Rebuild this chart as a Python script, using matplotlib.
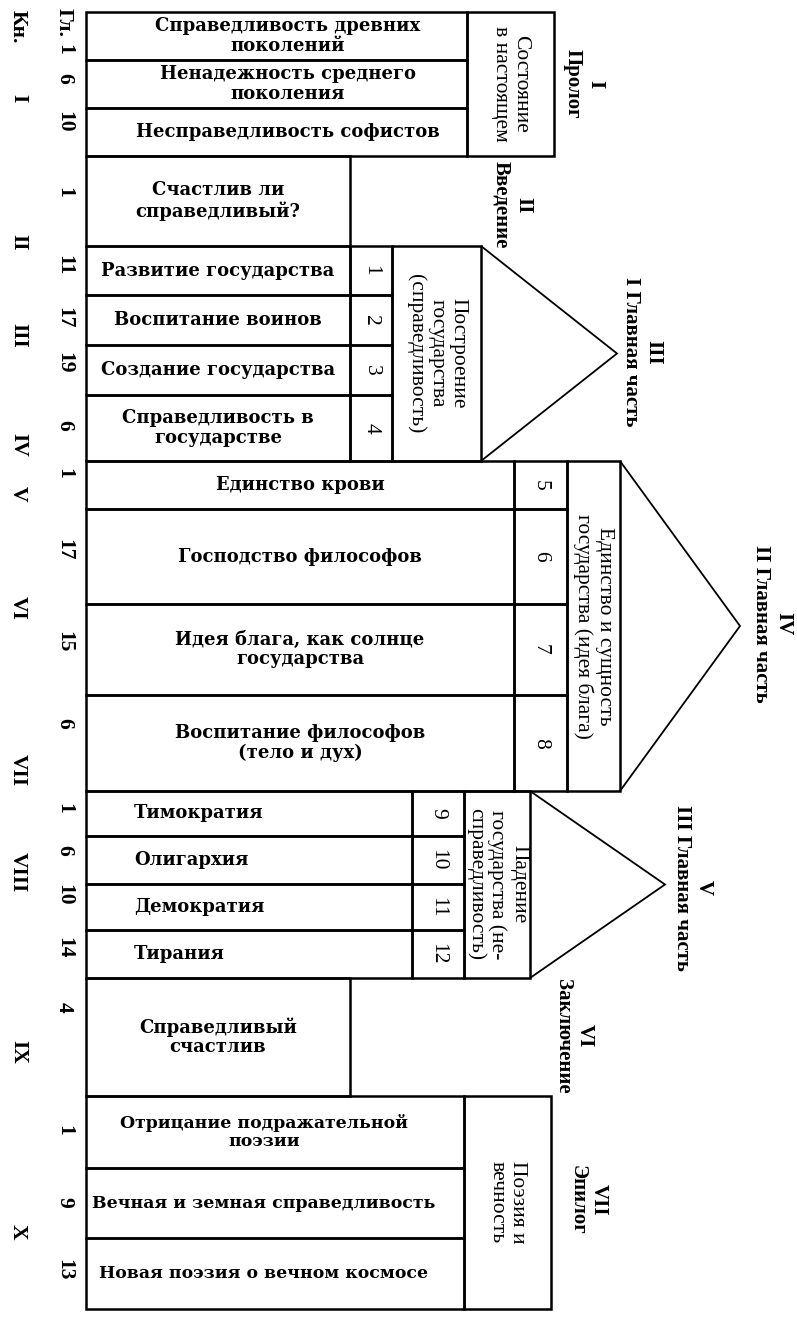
#!/usr/bin/env python3
"""Structure of Plato's Republic: books, chapters and parts as a block diagram."""
import matplotlib
matplotlib.use("Agg")
import matplotlib.pyplot as plt
from matplotlib.patches import Rectangle, Polygon

# ---------------------------------------------------------------------------
# Data
# ---------------------------------------------------------------------------

book_labels = ["I", "II", "III", "IV", "V", "VI", "VII", "VIII", "IX", "X"]
chapter_labels = ["1", "6", "10", "1", "11", "17", "19", "6", "1", "17",
                  "15", "6", "1", "6", "10", "14", "4", "1", "9", "13"]

prologue_rows = ["Справедливость древних\nпоколений",
                 "Ненадежность среднего\nпоколения",
                 "Несправедливость софистов"]
intro_rows = ["Счастлив ли\nсправедливый?"]
part1_rows = ["Развитие государства", "Воспитание воинов",
              "Создание государства", "Справедливость в\nгосударстве"]
part2_rows = ["Единство крови", "Господство философов",
              "Идея блага, как солнце\nгосударства",
              "Воспитание философов\n(тело и дух)"]
part3_rows = ["Тимократия", "Олигархия", "Демократия", "Тирания"]
concl_rows = ["Справедливый\nсчастлив"]
epilogue_rows = ["Отрицание подражательной\nпоэзии",
                 "Вечная и земная справедливость",
                 "Новая поэзия о вечном космосе"]

part1_nums = ["1", "2", "3", "4"]
part2_nums = ["5", "6", "7", "8"]
part3_nums = ["9", "10", "11", "12"]

box_labels = {
    "prologue": "Состояние\nв настоящем",
    "part1": "Построение\nгосударства\n(справедливость)",
    "part2": "Единство и сущность\nгосударства (идея блага)",
    "part3": "Падение\nгосударства (не-\nсправедливость)",
    "epilogue": "Поэзия и\nвечность",
}
section_titles = ["I\nПролог", "II\nВведение", "III\nI Главная часть",
                  "IV\nII Главная часть", "V\nIII Главная часть",
                  "VI\nЗаключение", "VII\nЭпилог"]

# ---------------------------------------------------------------------------
# Layout (pixel units, y grows downward)
# ---------------------------------------------------------------------------

W, H = 797, 1318
LEFT = 86
edges = {
    "prologue": [12, 60, 108, 156],
    "intro": [156, 246],
    "part1": [246, 295, 345, 395, 461],
    "part2": [461, 509, 604, 695, 791],
    "part3": [791, 836, 884, 930, 978],
    "concl": [978, 1096],
    "epilogue": [1096, 1168, 1238, 1309],
}
book_y = [98, 242, 335, 445, 494, 608, 770, 872, 1052, 1232]
chapter_y = [49, 78, 122, 192, 265, 318, 363, 425, 473, 550,
             642, 723, 808, 850, 895, 948, 1007, 1130, 1202, 1270]
title_pos = [(584, 84), (512, 205), (642, 352), (772, 624),
             (693, 888), (574, 1036), (588, 1200)]

LW = 1.8
TRI_LW = 1.3
ROW_FONT = dict(family="DejaVu Serif", fontweight="bold", fontsize=13)
ROT_FONT = dict(family="Liberation Serif", fontsize=15.5, rotation=-90,
                ha="center", va="center", multialignment="center",
                linespacing=1.12)

fig = plt.figure(figsize=(W / 100, H / 100), dpi=100)
ax = fig.add_axes([0, 0, 1, 1])
ax.set_xlim(0, W)
ax.set_ylim(H, 0)
ax.axis("off")


def box(x0, x1, y0, y1, lw=LW):
    ax.add_patch(Rectangle((x0, y0), x1 - x0, y1 - y0, fill=False,
                           edgecolor="black", linewidth=lw))


def rows(texts, ys, x1, text_x=None, ha="center", size=None):
    cx = (LEFT + x1) / 2 if text_x is None else text_x
    font = dict(ROW_FONT)
    if size is not None:
        font["fontsize"] = size
    for t, y0, y1 in zip(texts, ys[:-1], ys[1:]):
        box(LEFT, x1, y0, y1)
        ax.text(cx, (y0 + y1) / 2, t, ha=ha, va="center",
                multialignment="center", linespacing=1.1, **font)


def numbers(nums, ys, x0, x1):
    for n, y0, y1 in zip(nums, ys[:-1], ys[1:]):
        box(x0, x1, y0, y1)
        ax.text((x0 + x1) / 2, (y0 + y1) / 2, n, **ROT_FONT)


def label_box(text, ys, x0, x1, apex=None):
    box(x0, x1, ys[0], ys[-1])
    ax.text((x0 + x1) / 2, (ys[0] + ys[-1]) / 2, text, **ROT_FONT)
    if apex is not None:
        ym = (ys[0] + ys[-1]) / 2
        ax.add_patch(Polygon([(x1, ys[0]), (apex, ym), (x1, ys[-1])],
                             closed=False, fill=False, edgecolor="black",
                             linewidth=TRI_LW))


# --- Sections ---
rows(prologue_rows, edges["prologue"], 467, text_x=288)
label_box(box_labels["prologue"], edges["prologue"], 467, 554)

rows(intro_rows, edges["intro"], 350)

rows(part1_rows, edges["part1"], 350)
numbers(part1_nums, edges["part1"], 350, 392)
label_box(box_labels["part1"], edges["part1"], 392, 481, apex=617)

rows(part2_rows, edges["part2"], 514)
numbers(part2_nums, edges["part2"], 514, 567)
label_box(box_labels["part2"], edges["part2"], 567, 620, apex=740)

rows(part3_rows, edges["part3"], 412, text_x=134, ha="left")
numbers(part3_nums, edges["part3"], 412, 464)
label_box(box_labels["part3"], edges["part3"], 464, 530, apex=665)

rows(concl_rows, edges["concl"], 350)

rows(epilogue_rows, edges["epilogue"], 464, text_x=264, size=12.4)
label_box(box_labels["epilogue"], edges["epilogue"], 464, 551)

# --- Section titles ---
for t, (x, y) in zip(section_titles, title_pos):
    ax.text(x, y, t, **{**ROT_FONT, "fontweight": "bold", "fontsize": 15})

# --- Book / chapter columns ---
side = {**ROT_FONT, "fontweight": "bold", "fontsize": 15.5}
ax.text(18, 27, "Кн.", **side)
ax.text(64, 22, "Гл.", **side)
for b, y in zip(book_labels, book_y):
    ax.text(18, y, b, **side)
for c, y in zip(chapter_labels, chapter_y):
    ax.text(64, y, c, **side)

fig.savefig("out.png", dpi=100, facecolor="white")
